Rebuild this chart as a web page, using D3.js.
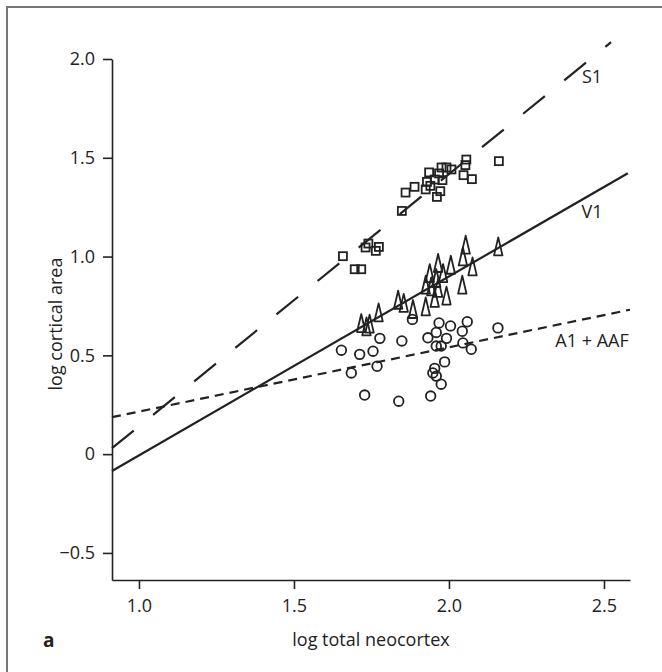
<!DOCTYPE html>
<html>
<head>
<meta charset="utf-8">
<script src="https://cdn.jsdelivr.net/npm/d3@7"></script>
<style>
  body { margin: 0; background: #fff; }
  text { font-family: "Open Sans", sans-serif; fill: #222; }
</style>
</head>
<body>
<script>
// log total neocortex (x) vs log cortical area (y)
var xTicks = [1.0, 1.5, 2.0, 2.5];
var xTickLabels = ['1.0', '1.5', '2.0', '2.5'];
var yTicks = [-0.5, 0, 0.5, 1.0, 1.5, 2.0];
var yTickLabels = ['\u22120.5', '0', '0.5', '1.0', '1.5', '2.0'];

// S1 (squares)
var s1X = [2.056, 2.053, 2.161, 1.976, 1.992, 2.008, 1.936, 1.968, 2.047, 2.074,
           1.929, 1.954, 1.979, 1.940, 1.925, 1.972, 1.889, 1.860, 1.961, 1.848,
           1.740, 1.731, 1.774, 1.764, 1.658, 1.696, 1.717];
var s1Y = [1.491, 1.463, 1.483, 1.451, 1.451, 1.441, 1.426, 1.421, 1.412, 1.392,
           1.378, 1.390, 1.387, 1.358, 1.340, 1.331, 1.353, 1.324, 1.302, 1.231,
           1.066, 1.046, 1.049, 1.029, 1.002, 0.936, 0.936];

// V1 (triangles)
var v1X = [2.054, 2.159, 2.045, 1.965, 2.006, 2.076, 1.938, 1.981, 1.959, 1.925,
           1.943, 1.965, 2.043, 1.992, 1.954, 1.836, 1.854, 1.925, 1.884, 1.773,
           1.717, 1.744, 1.734];
var v1Y = [1.058, 1.049, 0.998, 0.965, 0.956, 0.948, 0.914, 0.914, 0.889, 0.855,
           0.847, 0.839, 0.855, 0.800, 0.788, 0.779, 0.763, 0.745, 0.732, 0.715,
           0.661, 0.658, 0.644];

// A1 + AAF (circles)
var a1X = [1.653, 1.712, 1.755, 1.777, 1.848, 1.882, 1.932, 1.959, 1.968, 2.005,
           1.992, 1.959, 1.975, 2.059, 2.043, 2.045, 2.072, 2.158, 1.685, 1.768,
           1.986, 1.954, 1.948, 1.959, 1.975, 1.728, 1.838, 1.941];
var a1Y = [0.526, 0.505, 0.521, 0.586, 0.573, 0.682, 0.589, 0.616, 0.664, 0.649,
           0.586, 0.547, 0.547, 0.670, 0.622, 0.563, 0.531, 0.639, 0.411, 0.445,
           0.467, 0.434, 0.411, 0.395, 0.354, 0.299, 0.268, 0.294];

// regression lines, end points
var s1Line = [[0.913, 0.03], [2.523, 2.085]];
var v1Line = [[0.913, -0.085], [2.577, 1.422]];
var a1Line = [[0.913, 0.187], [2.584, 0.731]];

var WIDTH = 662;
var HEIGHT = 672;

var svg = d3.select('body')
  .append('svg')
  .attr('width', WIDTH)
  .attr('height', HEIGHT);

// panel frame (top + left only)
svg.append('path')
  .attr('d', 'M7,' + HEIGHT + 'V7H' + WIDTH)
  .attr('fill', 'none')
  .attr('stroke', '#777')
  .attr('stroke-width', 2);

var x = d3.scaleLinear().domain([0.913, 2.584]).range([112, 630]);
var y = d3.scaleLinear().domain([-0.637, 2.0]).range([580, 59]);

var xAxis = d3.axisBottom(x)
  .tickValues(xTicks)
  .tickFormat(function(d, i) { return xTickLabels[i]; })
  .tickSize(9)
  .tickSizeOuter(0)
  .tickPadding(10);

var yAxis = d3.axisLeft(y)
  .tickValues(yTicks)
  .tickFormat(function(d, i) { return yTickLabels[i]; })
  .tickSize(9)
  .tickSizeOuter(0)
  .tickPadding(8);

var gx = svg.append('g').attr('transform', 'translate(0,580)').call(xAxis);
var gy = svg.append('g').attr('transform', 'translate(112,0)').call(yAxis);

[gx, gy].forEach(function(g) {
  g.selectAll('path, line').attr('stroke', '#222').attr('stroke-width', 1.6);
  g.selectAll('text').style('font-size', '18px').attr('fill', '#222');
});

svg.append('text')
  .attr('x', 371).attr('y', 646)
  .attr('text-anchor', 'middle')
  .style('font-size', '18px')
  .text('log total neocortex');

svg.append('text')
  .attr('transform', 'translate(62,324) rotate(-90)')
  .attr('text-anchor', 'middle')
  .style('font-size', '18px')
  .text('log cortical area');

svg.append('text')
  .attr('x', 43).attr('y', 647)
  .style('font-size', '19px')
  .style('font-weight', 'bold')
  .text('a');

// lines
var line = d3.line()
  .x(function(d) { return x(d[0]); })
  .y(function(d) { return y(d[1]); });

svg.append('path').datum(s1Line)
  .attr('d', line).attr('fill', 'none')
  .attr('stroke', '#222').attr('stroke-width', 2.2)
  .attr('stroke-dasharray', '28,25');

svg.append('path').datum(v1Line)
  .attr('d', line).attr('fill', 'none')
  .attr('stroke', '#222').attr('stroke-width', 2.2);

svg.append('path').datum(a1Line)
  .attr('d', line).attr('fill', 'none')
  .attr('stroke', '#222').attr('stroke-width', 2.2)
  .attr('stroke-dasharray', '9,6');

// markers
svg.selectAll('rect.s1')
  .data(d3.range(s1X.length))
  .enter()
  .append('rect')
  .attr('class', 's1')
  .attr('x', function(i) { return x(s1X[i]) - 4; })
  .attr('y', function(i) { return y(s1Y[i]) - 4; })
  .attr('width', 8)
  .attr('height', 8)
  .attr('fill', 'none')
  .attr('stroke', '#222')
  .attr('stroke-width', 1.8);

svg.selectAll('path.v1')
  .data(d3.range(v1X.length))
  .enter()
  .append('path')
  .attr('class', 'v1')
  .attr('d', 'M-4.2,8.5L0,-9.5L4.2,8.5Z')
  .attr('transform', function(i) { return 'translate(' + x(v1X[i]) + ',' + y(v1Y[i]) + ')'; })
  .attr('fill', 'none')
  .attr('stroke', '#222')
  .attr('stroke-width', 1.8)
  .attr('stroke-linejoin', 'round');

svg.selectAll('circle.a1')
  .data(d3.range(a1X.length))
  .enter()
  .append('circle')
  .attr('class', 'a1')
  .attr('cx', function(i) { return x(a1X[i]); })
  .attr('cy', function(i) { return y(a1Y[i]); })
  .attr('r', 4.8)
  .attr('fill', 'none')
  .attr('stroke', '#222')
  .attr('stroke-width', 1.8);

// series labels
var labels = [['S1', 592, 83], ['V1', 592, 218], ['A1 + AAF', 592, 347]];
labels.forEach(function(l) {
  svg.append('text')
    .attr('x', l[1]).attr('y', l[2])
    .attr('text-anchor', 'middle')
    .style('font-size', '18px')
    .text(l[0]);
});
</script>
</body>
</html>
